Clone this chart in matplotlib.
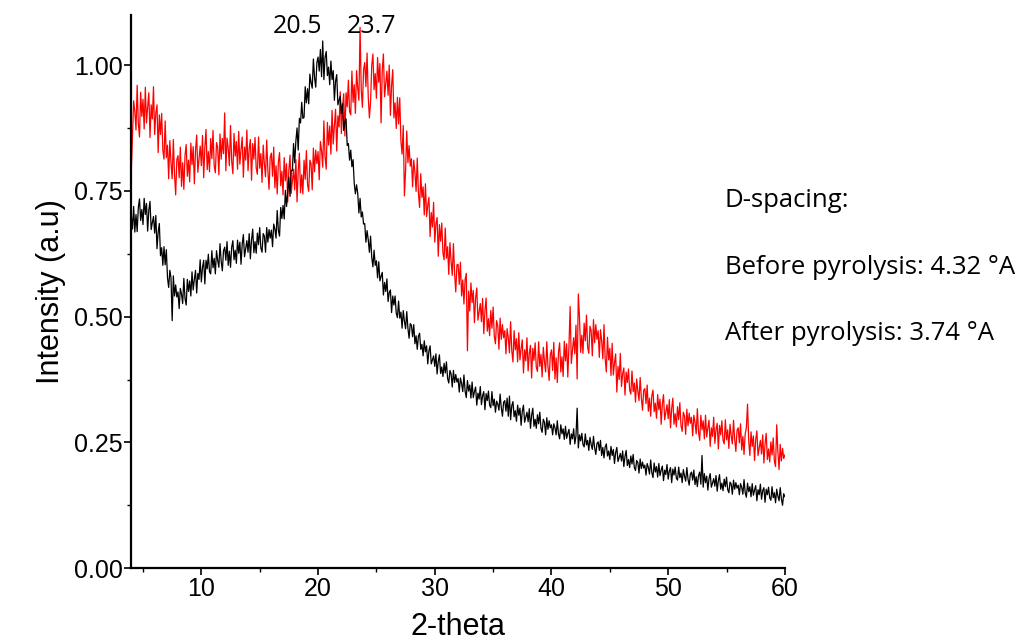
# -*- coding: utf-8 -*-
"""
XRD pattern before / after pyrolysis, with d-spacing notes on the right.
"""
import numpy as np
import matplotlib
matplotlib.use("Agg")
import matplotlib.pyplot as plt
from matplotlib.ticker import MultipleLocator, FormatStrFormatter

# 2-theta scan grid: starts at 4.0 deg, 0.1 deg steps (up to 60.0)
TWO_THETA_START = 4.0
TWO_THETA_STEP = 0.1

# intensities in thousandths (a.u. x 1000), one row = 2 degrees
before_pyrolysis = [
    701, 674, 719, 668, 703, 669, 717, 734, 691, 713, 683, 735, 703, 725, 670, 712, 729, 673, 687, 699,
    666, 701, 635, 668, 685, 621, 637, 602, 639, 603, 633, 577, 558, 592, 577, 492, 581, 541, 563, 539,
    549, 516, 556, 545, 526, 576, 536, 523, 574, 550, 571, 541, 589, 553, 574, 592, 547, 586, 574, 613,
    569, 598, 612, 565, 612, 595, 624, 589, 585, 631, 597, 616, 585, 631, 612, 598, 645, 610, 591, 631,
    638, 612, 649, 602, 630, 598, 638, 651, 613, 632, 606, 652, 626, 648, 604, 644, 663, 619, 635, 651,
    628, 665, 615, 652, 674, 627, 649, 626, 666, 643, 677, 636, 628, 665, 660, 628, 677, 648, 673, 656,
    672, 639, 684, 674, 656, 711, 671, 660, 717, 695, 721, 694, 751, 719, 749, 777, 739, 791, 790, 844,
    806, 849, 875, 831, 894, 885, 926, 894, 896, 957, 925, 953, 923, 982, 965, 954, 1012, 975, 956, 1005,
    1016, 988, 1031, 977, 1048, 971, 1015, 1027, 979, 996, 961, 1008, 971, 989, 930, 968, 981, 921, 930, 938,
    904, 923, 870, 888, 893, 840, 844, 811, 831, 798, 812, 765, 744, 762, 745, 706, 735, 698, 708, 684,
    685, 648, 671, 653, 628, 660, 618, 599, 632, 602, 611, 577, 609, 571, 580, 588, 543, 568, 550, 575,
    530, 548, 553, 508, 541, 523, 541, 507, 498, 531, 497, 509, 477, 512, 491, 476, 510, 477, 457, 486,
    483, 460, 484, 446, 462, 435, 461, 467, 435, 445, 422, 452, 430, 442, 406, 432, 442, 406, 414, 422,
    401, 426, 386, 411, 424, 387, 400, 381, 407, 388, 410, 377, 368, 393, 386, 360, 393, 369, 385, 370,
    377, 350, 378, 367, 351, 384, 352, 339, 373, 352, 364, 338, 370, 339, 351, 360, 324, 348, 336, 361,
    325, 343, 351, 315, 347, 333, 352, 324, 319, 351, 323, 336, 310, 332, 326, 314, 346, 319, 302, 330,
    333, 312, 338, 302, 342, 295, 323, 331, 301, 313, 292, 324, 304, 318, 284, 312, 324, 290, 300, 310,
    291, 317, 278, 304, 318, 282, 296, 278, 305, 287, 310, 278, 270, 296, 290, 265, 299, 276, 293, 279,
    285, 265, 287, 279, 265, 293, 267, 257, 285, 267, 277, 256, 282, 258, 268, 276, 246, 267, 257, 277,
    247, 263, 318, 239, 265, 253, 268, 246, 241, 267, 245, 254, 234, 260, 246, 236, 262, 239, 226, 248,
    251, 234, 254, 224, 240, 219, 241, 247, 223, 233, 216, 242, 224, 236, 208, 230, 240, 212, 220, 228,
    213, 233, 202, 222, 234, 204, 216, 200, 223, 207, 226, 200, 194, 214, 210, 189, 217, 198, 211, 199,
    205, 185, 208, 200, 187, 215, 190, 180, 209, 191, 202, 181, 208, 184, 195, 203, 174, 195, 186, 206,
    177, 193, 200, 170, 197, 185, 201, 179, 175, 201, 180, 189, 170, 196, 183, 173, 200, 177, 165, 187,
    191, 175, 195, 166, 182, 162, 184, 191, 167, 224, 161, 188, 170, 183, 155, 178, 188, 161, 169, 178,
    163, 184, 153, 174, 186, 157, 169, 154, 177, 162, 181, 156, 150, 171, 167, 147, 175, 157, 170, 159,
    165, 146, 168, 161, 147, 176, 150, 141, 169, 152, 162, 142, 168, 145, 155, 164, 134, 156, 146, 167,
    137, 154, 160, 131, 157, 146, 161, 140, 135, 162, 140, 150, 130, 157, 143, 134, 160, 138, 125, 148,
    142,
]

after_pyrolysis = [
    790, 857, 929, 908, 871, 960, 884, 857, 946, 898, 932, 873, 956, 885, 917, 945, 856, 921, 893, 957,
    862, 905, 921, 826, 901, 862, 904, 831, 813, 889, 816, 841, 774, 850, 806, 774, 852, 783, 742, 812,
    820, 776, 837, 759, 806, 753, 820, 842, 779, 811, 768, 845, 802, 838, 764, 830, 861, 787, 813, 839,
    800, 860, 776, 836, 872, 792, 828, 788, 854, 814, 870, 800, 786, 846, 837, 782, 863, 813, 854, 824,
    905, 790, 855, 835, 800, 880, 809, 784, 864, 819, 848, 793, 868, 803, 832, 857, 777, 837, 811, 871,
    790, 834, 852, 771, 844, 813, 856, 795, 783, 857, 795, 824, 767, 841, 804, 778, 851, 790, 753, 817,
    825, 779, 837, 756, 800, 744, 807, 826, 760, 789, 742, 816, 770, 804, 728, 792, 821, 745, 769, 793,
    752, 812, 728, 789, 825, 746, 782, 744, 811, 773, 830, 762, 749, 811, 804, 752, 835, 788, 831, 804,
    828, 772, 848, 830, 797, 889, 817, 793, 886, 841, 879, 823, 910, 843, 880, 912, 829, 899, 877, 947,
    864, 917, 943, 859, 945, 917, 970, 908, 901, 988, 926, 961, 904, 989, 954, 930, 1075, 952, 916, 991,
    1005, 957, 1024, 937, 895, 927, 999, 1022, 951, 983, 934, 1015, 966, 1003, 885, 990, 1022, 937, 963, 988,
    940, 1000, 900, 959, 991, 895, 925, 874, 936, 883, 935, 849, 823, 880, 740, 790, 869, 806, 840, 799,
    814, 758, 811, 787, 749, 815, 746, 717, 784, 737, 758, 702, 764, 699, 721, 737, 659, 707, 678, 727,
    648, 684, 697, 620, 683, 650, 686, 627, 613, 676, 616, 639, 584, 647, 610, 582, 645, 586, 549, 603,
    604, 564, 608, 541, 573, 525, 574, 586, 432, 551, 511, 567, 528, 552, 488, 537, 557, 493, 510, 526,
    490, 536, 466, 511, 537, 471, 496, 462, 512, 477, 519, 461, 446, 492, 482, 435, 497, 455, 484, 458,
    472, 426, 476, 458, 428, 490, 432, 410, 472, 434, 456, 410, 468, 414, 436, 454, 388, 434, 412, 458,
    392, 427, 443, 378, 437, 413, 448, 399, 391, 450, 401, 425, 380, 439, 411, 390, 450, 401, 373, 424,
    434, 393, 449, 376, 418, 369, 429, 448, 390, 420, 381, 451, 412, 446, 380, 442, 520, 407, 432, 458,
    426, 483, 376, 545, 499, 429, 463, 427, 487, 452, 503, 439, 427, 481, 472, 422, 494, 448, 484, 455,
    472, 419, 474, 452, 416, 484, 417, 390, 459, 414, 437, 383, 447, 384, 408, 426, 350, 401, 375, 427,
    361, 387, 398, 344, 390, 369, 396, 354, 346, 392, 351, 368, 330, 376, 352, 333, 379, 339, 314, 353,
    357, 327, 364, 312, 338, 302, 343, 354, 311, 328, 298, 345, 315, 336, 286, 327, 345, 295, 310, 325,
    297, 335, 279, 317, 338, 286, 307, 281, 321, 295, 329, 283, 272, 310, 302, 266, 316, 283, 308, 288,
    300, 263, 304, 290, 267, 317, 271, 254, 304, 275, 293, 257, 304, 261, 279, 294, 242, 279, 262, 300,
    248, 276, 288, 237, 284, 265, 293, 254, 247, 295, 255, 275, 238, 286, 263, 247, 294, 256, 232, 274,
    279, 249, 287, 235, 262, 226, 267, 279, 326, 254, 224, 271, 242, 263, 214, 255, 273, 224, 239, 254,
    227, 265, 209, 247, 268, 216, 237, 211, 251, 225, 259, 213, 202, 285, 232, 196, 246, 213, 238, 218,
    225,
]

peak_labels = ["20.5", "23.7"]
peak_label_x = [18.2, 24.6]

notes = ["D-spacing:", "Before pyrolysis: 4.32 °A", "After pyrolysis: 3.74 °A"]


def scan_axis(values):
    return TWO_THETA_START + TWO_THETA_STEP * np.arange(len(values))


fig = plt.figure(figsize=(10.18, 6.42), dpi=100)
ax = fig.add_axes([0.129, 0.115, 0.642, 0.862])

ax.plot(scan_axis(after_pyrolysis), np.array(after_pyrolysis) / 1000.0,
        color="#ff0000", linewidth=0.9)
ax.plot(scan_axis(before_pyrolysis), np.array(before_pyrolysis) / 1000.0,
        color="#000000", linewidth=0.9)

ax.set_xlim(4, 60)
ax.set_ylim(0, 1.1)

ax.xaxis.set_major_locator(MultipleLocator(10))
ax.xaxis.set_minor_locator(MultipleLocator(5))
ax.yaxis.set_major_locator(MultipleLocator(0.25))
ax.yaxis.set_minor_locator(MultipleLocator(0.125))
ax.yaxis.set_major_formatter(FormatStrFormatter("%.2f"))

for side in ("top", "right"):
    ax.spines[side].set_visible(False)
for side in ("left", "bottom"):
    ax.spines[side].set_linewidth(1.6)

ax.tick_params(which="major", direction="out", length=5, width=1.2,
               labelsize=18, pad=1)
ax.tick_params(which="minor", direction="out", length=3, width=1.0)
for lab in ax.get_xticklabels() + ax.get_yticklabels():
    lab.set_family("Liberation Sans")

ax.set_xlabel("2-theta", fontsize=22, family="Liberation Sans", labelpad=8)
ax.set_ylabel("Intensity (a.u)", fontsize=22, family="Liberation Sans", labelpad=6)

for xl, txt in zip(peak_label_x, peak_labels):
    ax.text(xl, 1.076, txt, fontsize=18, family="Open Sans",
            ha="center", va="center")

for ypos, txt in zip([0.688, 0.583, 0.480], notes):
    fig.text(0.712, ypos, txt, fontsize=18.5, family="Open Sans",
             ha="left", va="center")

fig.savefig("out.png", dpi=100)
plt.close(fig)
